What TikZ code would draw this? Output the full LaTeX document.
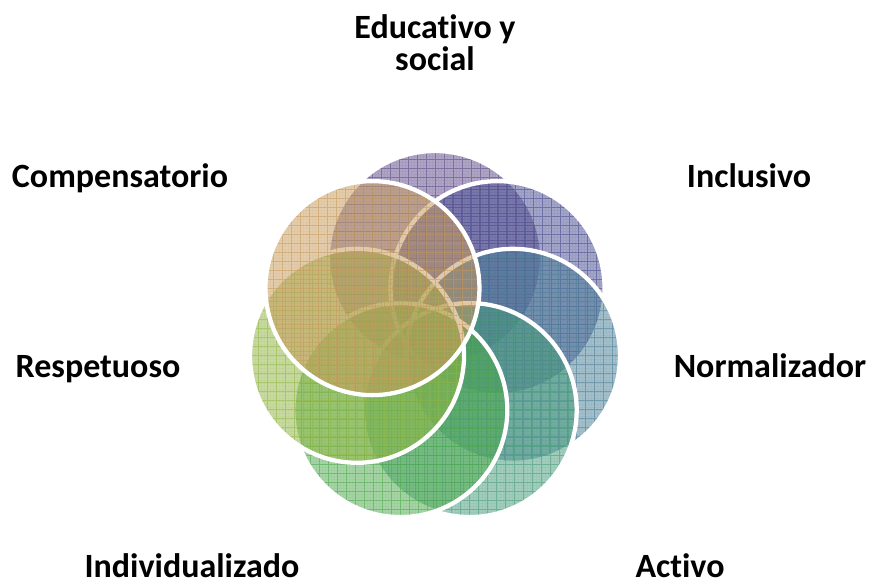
\documentclass[tikz,border=0pt]{standalone}
\usepackage{fontspec}
\setmainfont{Carlito}[Ligatures=CommonOff]
\begin{document}
\begin{tikzpicture}[x=0.75pt,y=-0.75pt,
  petal/.style={circle, minimum size=160.5pt, inner sep=0pt, draw=white, line width=3.2pt,
    fill=#1, fill opacity=0.5,
    path picture={
      \draw[#1, draw opacity=0.12, line width=0.3pt, step=2.25pt]
        ([shift={(-5pt,-5pt)}]path picture bounding box.south west) grid ([shift={(5pt,5pt)}]path picture bounding box.north east);
      \draw[#1, draw opacity=0.55, line width=0.5pt, step=6.75pt]
        ([shift={(-5pt,-5pt)}]path picture bounding box.south west) grid ([shift={(5pt,5pt)}]path picture bounding box.north east);
    }},
  lbl/.style={font=\bfseries\fontsize{25.5}{24}\selectfont, anchor=base, align=center}]
\useasboundingbox (0,0) rectangle (870,585);
\definecolor{cEdu}{RGB}{96,76,138}
\definecolor{cInc}{RGB}{74,78,146}
\definecolor{cNor}{RGB}{76,128,152}
\definecolor{cAct}{RGB}{72,156,124}
\definecolor{cInd}{RGB}{78,170,78}
\definecolor{cRes}{RGB}{145,182,68}
\definecolor{cCom}{RGB}{200,155,92}
\coordinate (ctr) at (435,338);
\node[petal=cEdu] (edu) at ([shift={(90:60pt)}]ctr) {};
\node[petal=cInc] (inc) at ([shift={(38.571:60pt)}]ctr) {};
\node[petal=cNor] (nor) at ([shift={(-12.857:60pt)}]ctr) {};
\node[petal=cAct] (act) at ([shift={(-64.286:60pt)}]ctr) {};
\node[petal=cInd] (ind) at ([shift={(-115.714:60pt)}]ctr) {};
\node[petal=cRes] (res) at ([shift={(-167.143:60pt)}]ctr) {};
\node[petal=cCom] (com) at ([shift={(141.429:60pt)}]ctr) {};
\node[lbl] (tedu) at (435,70) {Educat\kern0pt ivo y\\social};
\node[lbl] (tcom) at (120,187) {Compensatorio};
\node[lbl] (tinc) at (749,187) {Inclusivo};
\node[lbl] (tres) at (98,377) {Respetuoso};
\node[lbl] (tnor) at (770,377) {Normalizador};
\node[lbl] (tind) at (192,577) {Individualizado};
\node[lbl] (tact) at (680,577) {Act\kern0pt ivo};
\end{tikzpicture}
\end{document}
